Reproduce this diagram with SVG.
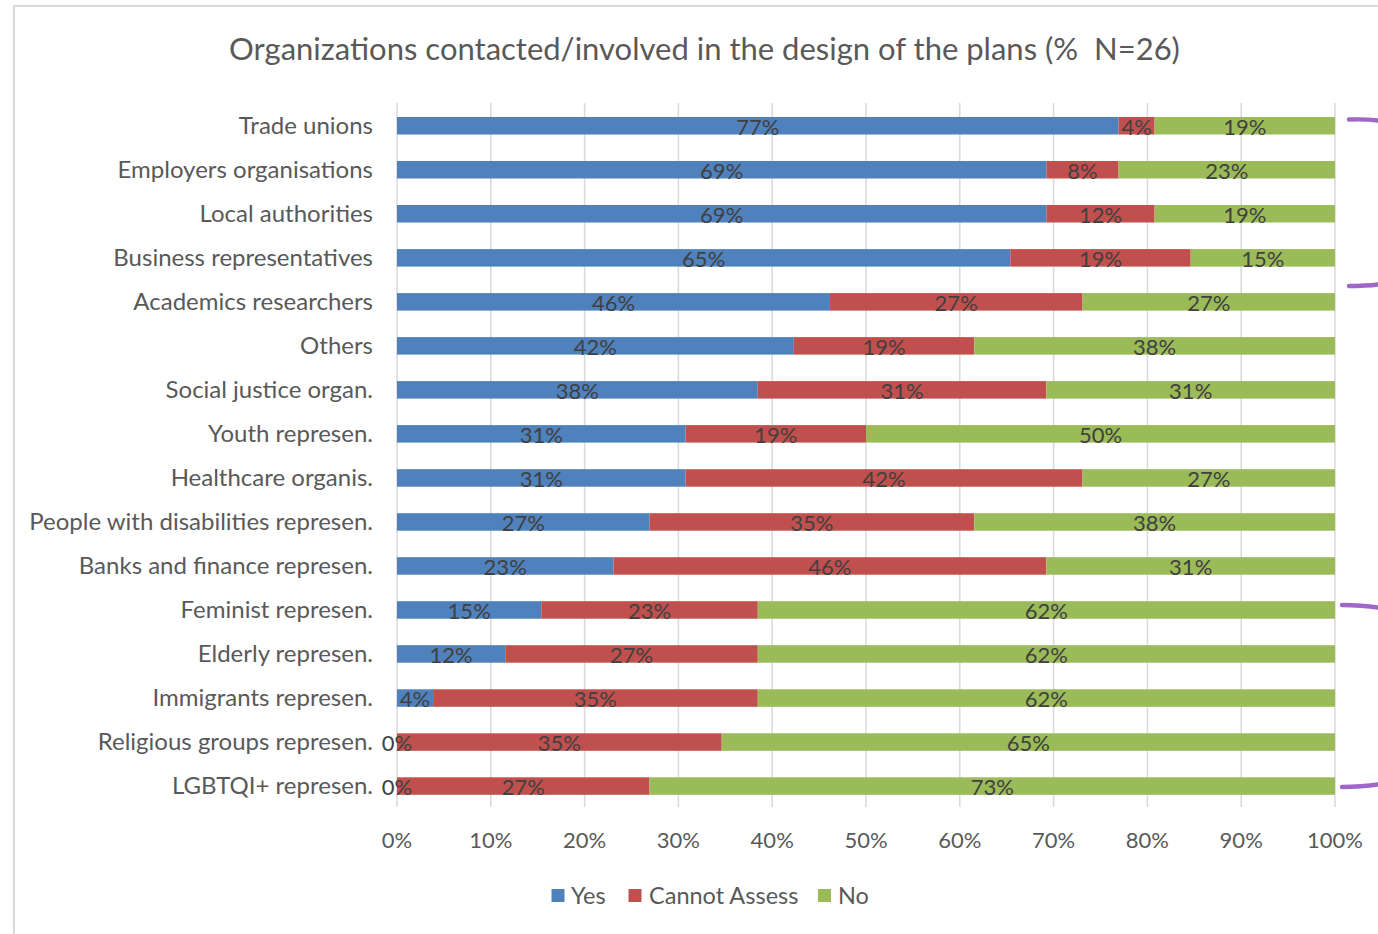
<svg xmlns="http://www.w3.org/2000/svg" width="1378" height="934" viewBox="0 0 1378 934">
<style>
.cat{font-family:Lato,"Liberation Sans",sans-serif;font-size:24px;fill:#595959;text-anchor:end}
.dl{font-family:Lato,"Liberation Sans",sans-serif;font-size:22px;fill:#404040;text-anchor:middle}
.ax{font-family:Lato,"Liberation Sans",sans-serif;font-size:22px;fill:#595959;text-anchor:middle}
.lg{font-family:Lato,"Liberation Sans",sans-serif;font-size:23.5px;fill:#595959}
.title{font-family:Lato,"Liberation Sans",sans-serif;font-size:31px;fill:#595959;text-anchor:middle;white-space:pre}
.y{fill:#4f81bd}.c{fill:#c0504d}.n{fill:#9bbb59}
.grid line{stroke:#d9d9d9;stroke-width:1.5}
.brace{fill:none;stroke:#a066c8;stroke-width:4.5;stroke-linecap:round}
</style>
<rect x="0" y="0" width="1378" height="934" fill="#ffffff"/>
<g id="frame" fill="none" stroke="#d9d9d9" stroke-width="2">
<path d="M14,934 L14,6 L1378,6"/>
</g>
<text id="title" class="title" x="704.5" y="60" xml:space="preserve">Organizations contacted/involved in the design of the plans (%  N=26)</text>
<g id="grid" class="grid">
<line x1="397" y1="103" x2="397" y2="807"/>
<line x1="490.8" y1="103" x2="490.8" y2="807"/>
<line x1="584.6" y1="103" x2="584.6" y2="807"/>
<line x1="678.4" y1="103" x2="678.4" y2="807"/>
<line x1="772.2" y1="103" x2="772.2" y2="807"/>
<line x1="866" y1="103" x2="866" y2="807"/>
<line x1="959.8" y1="103" x2="959.8" y2="807"/>
<line x1="1053.6" y1="103" x2="1053.6" y2="807"/>
<line x1="1147.4" y1="103" x2="1147.4" y2="807"/>
<line x1="1241.2" y1="103" x2="1241.2" y2="807"/>
<line x1="1335" y1="103" x2="1335" y2="807"/>
</g>
<g id="axis">
<text class="ax" x="397" y="848">0%</text>
<text class="ax" x="490.8" y="848">10%</text>
<text class="ax" x="584.6" y="848">20%</text>
<text class="ax" x="678.4" y="848">30%</text>
<text class="ax" x="772.2" y="848">40%</text>
<text class="ax" x="866" y="848">50%</text>
<text class="ax" x="959.8" y="848">60%</text>
<text class="ax" x="1053.6" y="848">70%</text>
<text class="ax" x="1147.4" y="848">80%</text>
<text class="ax" x="1241.2" y="848">90%</text>
<text class="ax" x="1335" y="848">100%</text>
</g>
<g id="row-trade-unions">
<rect class="y" x="397" y="117" width="721.54" height="17.5"/>
<rect class="c" x="1118.54" y="117" width="36.08" height="17.5"/>
<rect class="n" x="1154.62" y="117" width="180.38" height="17.5"/>
<text class="cat" x="373" y="133.5">Trade unions</text>
<text class="dl" x="757.8" y="134.5">77%</text>
<text class="dl" x="1136.6" y="134.5">4%</text>
<text class="dl" x="1244.8" y="134.5">19%</text>
</g>
<g id="row-employers">
<rect class="y" x="397" y="161" width="649.38" height="17.5"/>
<rect class="c" x="1046.38" y="161" width="72.16" height="17.5"/>
<rect class="n" x="1118.54" y="161" width="216.46" height="17.5"/>
<text class="cat" x="373" y="177.5">Employers organisations</text>
<text class="dl" x="721.7" y="178.5">69%</text>
<text class="dl" x="1082.5" y="178.5">8%</text>
<text class="dl" x="1226.8" y="178.5">23%</text>
</g>
<g id="row-local-authorities">
<rect class="y" x="397" y="205" width="649.38" height="17.5"/>
<rect class="c" x="1046.38" y="205" width="108.24" height="17.5"/>
<rect class="n" x="1154.62" y="205" width="180.38" height="17.5"/>
<text class="cat" x="373" y="221.5">Local authorities</text>
<text class="dl" x="721.7" y="222.5">69%</text>
<text class="dl" x="1100.5" y="222.5">12%</text>
<text class="dl" x="1244.8" y="222.5">19%</text>
</g>
<g id="row-business">
<rect class="y" x="397" y="249.1" width="613.31" height="17.5"/>
<rect class="c" x="1010.31" y="249.1" width="180.38" height="17.5"/>
<rect class="n" x="1190.69" y="249.1" width="144.31" height="17.5"/>
<text class="cat" x="373" y="265.6">Business representatives</text>
<text class="dl" x="703.7" y="266.6">65%</text>
<text class="dl" x="1100.5" y="266.6">19%</text>
<text class="dl" x="1262.8" y="266.6">15%</text>
</g>
<g id="row-academics">
<rect class="y" x="397" y="293.1" width="432.92" height="17.5"/>
<rect class="c" x="829.92" y="293.1" width="252.62" height="17.5"/>
<rect class="n" x="1082.54" y="293.1" width="252.46" height="17.5"/>
<text class="cat" x="373" y="309.6">Academics researchers</text>
<text class="dl" x="613.5" y="310.6">46%</text>
<text class="dl" x="956.2" y="310.6">27%</text>
<text class="dl" x="1208.8" y="310.6">27%</text>
</g>
<g id="row-others">
<rect class="y" x="397" y="337.1" width="396.85" height="17.5"/>
<rect class="c" x="793.85" y="337.1" width="180.38" height="17.5"/>
<rect class="n" x="974.23" y="337.1" width="360.77" height="17.5"/>
<text class="cat" x="373" y="353.6">Others</text>
<text class="dl" x="595.4" y="354.6">42%</text>
<text class="dl" x="884" y="354.6">19%</text>
<text class="dl" x="1154.6" y="354.6">38%</text>
</g>
<g id="row-social-justice">
<rect class="y" x="397" y="381.1" width="360.77" height="17.5"/>
<rect class="c" x="757.77" y="381.1" width="288.61" height="17.5"/>
<rect class="n" x="1046.38" y="381.1" width="288.62" height="17.5"/>
<text class="cat" x="373" y="397.6">Social justice organ.</text>
<text class="dl" x="577.4" y="398.6">38%</text>
<text class="dl" x="902.1" y="398.6">31%</text>
<text class="dl" x="1190.7" y="398.6">31%</text>
</g>
<g id="row-youth">
<rect class="y" x="397" y="425.1" width="288.62" height="17.5"/>
<rect class="c" x="685.62" y="425.1" width="180.38" height="17.5"/>
<rect class="n" x="866" y="425.1" width="469" height="17.5"/>
<text class="cat" x="373" y="441.6">Youth represen.</text>
<text class="dl" x="541.3" y="442.6">31%</text>
<text class="dl" x="775.8" y="442.6">19%</text>
<text class="dl" x="1100.5" y="442.6">50%</text>
</g>
<g id="row-healthcare">
<rect class="y" x="397" y="469.2" width="288.62" height="17.5"/>
<rect class="c" x="685.62" y="469.2" width="396.92" height="17.5"/>
<rect class="n" x="1082.54" y="469.2" width="252.46" height="17.5"/>
<text class="cat" x="373" y="485.7">Healthcare organis.</text>
<text class="dl" x="541.3" y="486.7">31%</text>
<text class="dl" x="884.1" y="486.7">42%</text>
<text class="dl" x="1208.8" y="486.7">27%</text>
</g>
<g id="row-disabilities">
<rect class="y" x="397" y="513.2" width="252.54" height="17.5"/>
<rect class="c" x="649.54" y="513.2" width="324.69" height="17.5"/>
<rect class="n" x="974.23" y="513.2" width="360.77" height="17.5"/>
<text class="cat" x="373" y="529.7">People with disabilities represen.</text>
<text class="dl" x="523.3" y="530.7">27%</text>
<text class="dl" x="811.9" y="530.7">35%</text>
<text class="dl" x="1154.6" y="530.7">38%</text>
</g>
<g id="row-banks">
<rect class="y" x="397" y="557.2" width="216.46" height="17.5"/>
<rect class="c" x="613.46" y="557.2" width="432.92" height="17.5"/>
<rect class="n" x="1046.38" y="557.2" width="288.62" height="17.5"/>
<text class="cat" x="373" y="573.7">Banks and finance represen.</text>
<text class="dl" x="505.2" y="574.7">23%</text>
<text class="dl" x="829.9" y="574.7">46%</text>
<text class="dl" x="1190.7" y="574.7">31%</text>
</g>
<g id="row-feminist">
<rect class="y" x="397" y="601.2" width="144.31" height="17.5"/>
<rect class="c" x="541.31" y="601.2" width="216.46" height="17.5"/>
<rect class="n" x="757.77" y="601.2" width="577.23" height="17.5"/>
<text class="cat" x="373" y="617.7">Feminist represen.</text>
<text class="dl" x="469.2" y="618.7">15%</text>
<text class="dl" x="649.5" y="618.7">23%</text>
<text class="dl" x="1046.4" y="618.7">62%</text>
</g>
<g id="row-elderly">
<rect class="y" x="397" y="645.2" width="108.23" height="17.5"/>
<rect class="c" x="505.23" y="645.2" width="252.54" height="17.5"/>
<rect class="n" x="757.77" y="645.2" width="577.23" height="17.5"/>
<text class="cat" x="373" y="661.7">Elderly represen.</text>
<text class="dl" x="451.1" y="662.7">12%</text>
<text class="dl" x="631.5" y="662.7">27%</text>
<text class="dl" x="1046.4" y="662.7">62%</text>
</g>
<g id="row-immigrants">
<rect class="y" x="397" y="689.3" width="36.08" height="17.5"/>
<rect class="c" x="433.08" y="689.3" width="324.69" height="17.5"/>
<rect class="n" x="757.77" y="689.3" width="577.23" height="17.5"/>
<text class="cat" x="373" y="705.8">Immigrants represen.</text>
<text class="dl" x="415" y="706.8">4%</text>
<text class="dl" x="595.4" y="706.8">35%</text>
<text class="dl" x="1046.4" y="706.8">62%</text>
</g>
<g id="row-religious">
<rect class="c" x="397" y="733.3" width="324.69" height="17.5"/>
<rect class="n" x="721.69" y="733.3" width="613.31" height="17.5"/>
<text class="cat" x="373" y="749.8">Religious groups represen.</text>
<text class="dl" x="397" y="750.8">0%</text>
<text class="dl" x="559.3" y="750.8">35%</text>
<text class="dl" x="1028.3" y="750.8">65%</text>
</g>
<g id="row-lgbtqi">
<rect class="c" x="397" y="777.3" width="252.54" height="17.5"/>
<rect class="n" x="649.54" y="777.3" width="685.46" height="17.5"/>
<text class="cat" x="373" y="793.8">LGBTQI+ represen.</text>
<text class="dl" x="397" y="794.8">0%</text>
<text class="dl" x="523.3" y="794.8">27%</text>
<text class="dl" x="992.3" y="794.8">73%</text>
</g>
<g id="legend">
<rect class="y" x="551.5" y="889" width="13" height="13"/>
<text class="lg" x="571" y="903.5">Yes</text>
<rect class="c" x="628.5" y="889" width="13" height="13"/>
<text class="lg" x="649" y="903.5">Cannot Assess</text>
<rect class="n" x="818" y="889" width="13" height="13"/>
<text class="lg" x="838" y="903.5">No</text>
</g>
<g id="connectors">
<path class="brace" d="M1349,119.5 Q1366,119 1378,120.5"/>
<path class="brace" d="M1349,286 Q1366,286 1378,284.5"/>
<path class="brace" d="M1342,605 Q1362,605.2 1378,607.5"/>
<path class="brace" d="M1342,787 Q1362,787 1378,784.5"/>
</g>
</svg>
